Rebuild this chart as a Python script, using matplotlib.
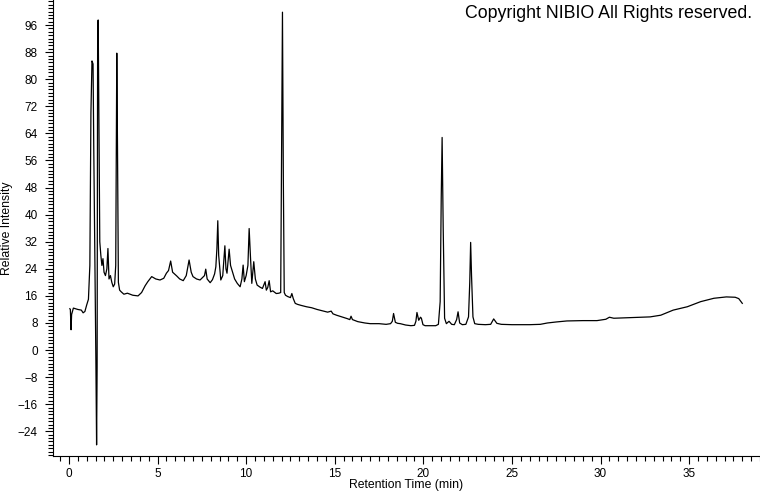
import numpy as np
import matplotlib
matplotlib.use("Agg")
import matplotlib.pyplot as plt
from matplotlib.ticker import MultipleLocator

plt.rcParams["font.family"] = ["Liberation Sans", "DejaVu Sans"]

# ---- chromatogram trace (min, relative intensity) ----
rt_early = [0.05, 0.08, 0.12, 0.15, 0.25, 0.5, 0.7, 0.8, 0.9, 1.0, 1.1, 1.18,
            1.24, 1.3, 1.36, 1.4, 1.46, 1.52, 1.56, 1.59, 1.62, 1.65, 1.69,
            1.74, 1.8, 1.86, 1.92, 1.98, 2.06, 2.14, 2.2, 2.26, 2.34, 2.42,
            2.5, 2.58, 2.64, 2.7, 2.74, 2.79, 2.86, 2.95]
int_early = [12.2, 12.0, 6.0, 10.5, 12.4, 12.0, 11.8, 11.0, 11.4, 13.3, 15.0, 25.0,
             70.0, 85.4, 84.5, 60.0, 30.0, -3.0, -28.0, -5.0, 95.0, 97.5, 70.0,
             32.0, 28.0, 25.0, 27.0, 23.0, 22.0, 24.0, 30.0, 21.0, 22.0, 20.0,
             18.7, 19.5, 25.0, 87.7, 60.0, 20.0, 17.7, 17.2]

rt_mid = [3.1, 3.3, 3.6, 3.9, 4.1, 4.3, 4.45, 4.67, 4.9, 5.14, 5.35, 5.5, 5.62,
          5.74, 5.85, 6.08, 6.25, 6.45, 6.62, 6.78, 6.9, 7.0, 7.2, 7.4, 7.55,
          7.65, 7.72, 7.8, 7.97, 8.1, 8.22, 8.29, 8.35, 8.4, 8.45, 8.57, 8.68,
          8.8, 8.86, 8.92, 9.04, 9.12, 9.2, 9.35, 9.5, 9.66, 9.76, 9.83, 9.9,
          10.0, 10.1, 10.17, 10.24, 10.32, 10.43, 10.52, 10.62, 10.78, 10.92,
          11.07, 11.14, 11.22, 11.3, 11.38, 11.5, 11.7, 11.85, 11.95, 12.0,
          12.05, 12.1, 12.15, 12.22, 12.35, 12.5, 12.58, 12.66, 12.77, 12.9]
int_mid = [16.5, 16.8, 16.2, 16.0, 17.0, 19.0, 20.2, 21.7, 21.0, 20.7, 21.2, 22.7, 23.5,
           26.3, 23.0, 21.9, 21.0, 20.5, 22.0, 26.6, 23.0, 21.7, 21.0, 20.7, 21.5,
           22.0, 23.9, 21.0, 19.9, 20.8, 22.5, 24.6, 30.0, 38.2, 28.0, 20.7, 22.0,
           30.8, 24.0, 22.7, 29.8, 25.0, 23.6, 21.0, 19.7, 18.7, 21.0, 25.1, 20.2,
           22.0, 25.0, 35.9, 28.0, 19.7, 26.1, 21.0, 19.2, 18.6, 18.2,
           20.2, 17.7, 18.5, 20.5, 17.2, 17.5, 16.7, 16.8, 17.0, 60.0,
           99.8, 50.0, 17.0, 16.2, 15.8, 15.5, 16.7, 15.2, 13.8, 13.5]

rt_late = [13.1, 13.4, 13.7, 14.0, 14.3, 14.6, 14.8, 14.9, 15.1, 15.4, 15.7, 15.85,
           15.92, 16.0, 16.3, 16.7, 17.0, 17.5, 17.9, 18.15, 18.25, 18.32, 18.42,
           18.55, 18.7, 19.0, 19.3, 19.5, 19.58, 19.64, 19.74, 19.84, 19.89, 19.98,
           20.1, 20.4, 20.7, 20.85, 20.95, 21.01, 21.06, 21.12, 21.2, 21.3, 21.45,
           21.6, 21.75, 21.88, 21.96, 22.05, 22.2, 22.4, 22.55, 22.62, 22.67, 22.72,
           22.8, 22.9, 23.1, 23.5, 23.8, 23.97, 24.15, 24.4, 25.0, 26.0, 26.6, 27.0,
           27.5, 28.1, 29.0, 29.8, 30.3, 30.5, 30.75, 31.3, 31.9, 32.8, 33.4, 34.1,
           34.9, 35.65, 36.4, 37.1, 37.6, 37.8, 38.0]
int_late = [13.2, 12.8, 12.5, 12.0, 11.6, 11.2, 11.5, 10.7, 10.3, 9.8, 9.3, 9.0,
            10.0, 9.0, 8.4, 8.0, 7.8, 7.8, 7.6, 7.8, 8.5, 10.8, 8.2,
            7.9, 7.8, 7.4, 7.2, 7.3, 8.5, 11.1, 8.8, 9.7, 9.4, 7.5,
            7.2, 7.2, 7.2, 7.6, 14.3, 45.0, 62.8, 36.4, 9.4, 7.8, 8.5,
            7.6, 7.5, 9.0, 11.3, 8.0, 7.5, 7.6, 9.8, 20.0, 31.8, 22.0,
            9.8, 7.8, 7.6, 7.5, 7.6, 9.2, 7.9, 7.6, 7.5, 7.5, 7.6, 8.0,
            8.3, 8.6, 8.7, 8.7, 9.1, 9.7, 9.4, 9.5, 9.6, 9.8, 10.3, 11.8,
            12.8, 14.3, 15.3, 15.7, 15.6, 15.2, 13.8]

rt = np.concatenate([rt_early, rt_mid, rt_late])
intensity = np.concatenate([int_early, int_mid, int_late])

fig = plt.figure(figsize=(7.6, 4.92), dpi=100)
ax = fig.add_axes([53 / 760, 1 - 455.7 / 492, 1 - 53 / 760, 455.7 / 492])

ax.plot(rt, intensity, color="black", lw=0.9)

ax.set_xlim(-0.9, 39.0)
ax.set_ylim(-31.2, 103.4)

ax.xaxis.set_major_locator(MultipleLocator(5))
ax.xaxis.set_minor_locator(MultipleLocator(0.5))
ax.yaxis.set_major_locator(MultipleLocator(8))
ax.yaxis.set_minor_locator(MultipleLocator(1))

ax.tick_params(which="major", length=6, width=0.8, labelsize=8.5, pad=2.5)
ax.tick_params(which="minor", length=3.5, width=0.8)
ax.tick_params(axis="y", which="major", pad=5)

for side in ["top", "right"]:
    ax.spines[side].set_visible(False)

ax.set_xlabel("Retention Time (min)", fontsize=8.8, labelpad=-0.5)
ax.set_ylabel("Relative Intensity", fontsize=8.8, labelpad=3)

fig.text(0.989, 0.973, "Copyright NIBIO All Rights reserved.", ha="right", va="center",
         fontsize=12.8)

fig.savefig("out.png", dpi=100)
